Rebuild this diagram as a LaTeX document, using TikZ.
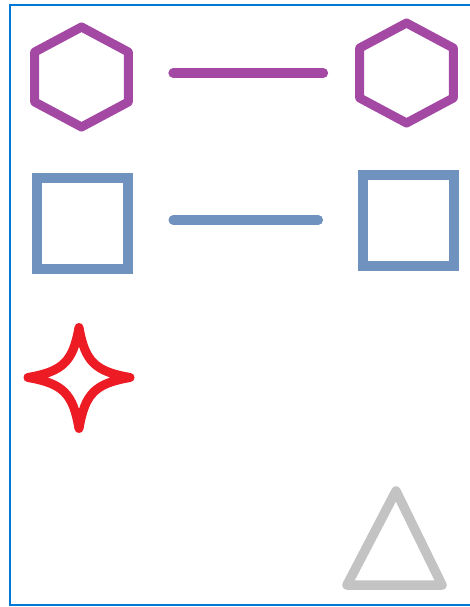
\documentclass[tikz,border=0pt]{standalone}
\usetikzlibrary{shapes.geometric}
\definecolor{paintpurple}{RGB}{163,73,164}
\definecolor{paintblue}{RGB}{112,146,190}
\definecolor{paintred}{RGB}{237,28,36}
\definecolor{paintgray}{RGB}{195,195,195}
\definecolor{framecol}{RGB}{0,120,215}
\begin{document}
\begin{tikzpicture}[x=1pt, y=-1pt,
		hexa/.style={regular polygon, regular polygon sides=6, shape border rotate=30, minimum size=100pt, inner sep=0pt, xscale=1.08, draw=paintpurple, line width=9pt, line join=round},
		box/.style={rectangle, minimum size=91pt, inner sep=0pt, draw=paintblue, line width=10pt},
		link/.style={line width=9.5pt, line cap=round}]
	\useasboundingbox (0,0) rectangle (470,607);
	\draw[framecol, line width=2pt] (10,5) rectangle (480,605);
	% top row
	\node[hexa] (hexL) at (81.5,77) {};
	\node[hexa] (hexR) at (406.5,73) {};
	\draw[link, paintpurple, shorten <=40pt, shorten >=31.5pt] (hexL.east |- hexR) -- (hexR.west);
	% second row
	\node[box] (boxL) at (82.7,223.8) {};
	\node[box] (boxR) at (408.8,220) {};
	\draw[link, paintblue, shorten <=40pt, shorten >=40pt] (boxL.east |- boxR) -- (boxR.west);
	% star
	\coordinate (star) at (79,377.5);
	\draw[paintred, line width=9pt, line join=round, shift={(star)}]
		(0,-50) .. controls (6,-16) and (16,-6) .. (51,0)
		.. controls (16,6) and (6,16) .. (0,51)
		.. controls (-6,16) and (-16,6) .. (-51,0)
		.. controls (-16,-6) and (-6,-16) .. (0,-50) -- cycle;
	% triangle
	\draw[paintgray, line width=9.5pt, line join=round] (396,491) -- (442,585) -- (347,585) -- cycle;
\end{tikzpicture}
\end{document}
